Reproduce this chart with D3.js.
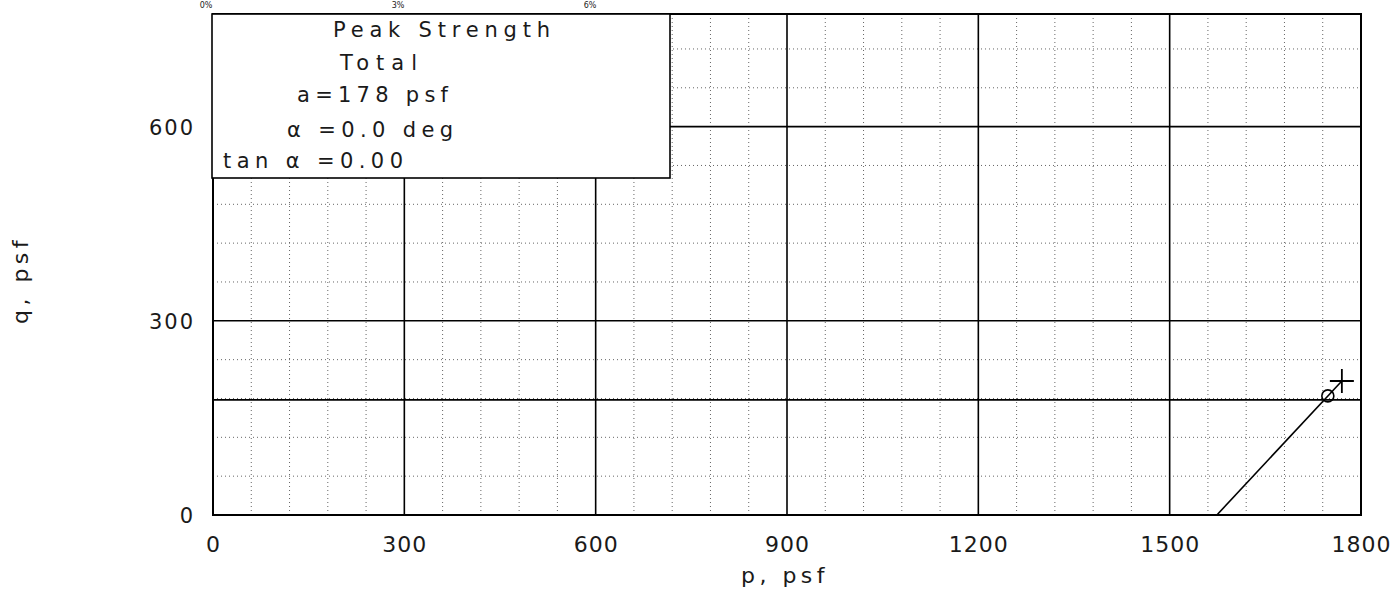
<!DOCTYPE html>
<html lang="en">

<head>
	<meta charset="utf-8">
	<title>p-q diagram</title>
	<style>
		body {
			margin: 0;
			background: #fff;
		}

		svg text {
			font-family: "DejaVu Sans", sans-serif;
			font-weight: normal;
			fill: #1a1a1a;
		}

		.minor line {
			stroke: #666;
			stroke-width: 1;
			stroke-dasharray: 1, 3;
		}

		.major line {
			stroke: #000;
			stroke-width: 1.6;
		}
	</style>
</head>

<body>
	<svg></svg>

	<script src="https://d3js.org/d3.v7.min.js"></script>
	<script>
		// stress path (total), p and q in psf
		var pathP = [1574, 1770];
		var pathQ = [0, 207];

		// peak point
		var peakP = [1748];
		var peakQ = [184];

		// failure envelope
		var envelopeA = 178;
		var envelopeTan = 0.00;

		var xTicks = [0, 300, 600, 900, 1200, 1500, 1800];
		var yTicks = [0, 300, 600];
		var topLabels = ["0%", "3%", "6%"];

		var legendLines = ["Peak Strength", "Total", "a=178 psf", "\u03b1 =0.0 deg", "tan \u03b1 =0.00"];

		(function() {

			var width = 1400,
				height = 593;

			var svg = d3.select("svg")
				.attr("width", width)
				.attr("height", height);

			var x = d3.scaleLinear().domain([0, 1800]).range([213, 1361]);
			var y = d3.scaleLinear().domain([0, 774]).range([515, 14]);

			// minor dotted grid every 60 psf
			var xMinor = d3.range(60, 1800, 60).filter(function(d) { return d % 300 !== 0; });
			var yMinor = d3.range(60, 774, 60).filter(function(d) { return d % 300 !== 0; });

			var minor = svg.append("g").attr("class", "minor");
			minor.selectAll("line.v")
				.data(xMinor)
				.enter().append("line")
				.attr("class", "v")
				.attr("x1", function(d) { return x(d); })
				.attr("x2", function(d) { return x(d); })
				.attr("y1", y(0))
				.attr("y2", y.range()[1]);
			minor.selectAll("line.h")
				.data(yMinor)
				.enter().append("line")
				.attr("class", "h")
				.attr("y1", function(d) { return y(d); })
				.attr("y2", function(d) { return y(d); })
				.attr("x1", x(0))
				.attr("x2", x(1800));

			// major solid grid
			var major = svg.append("g").attr("class", "major");
			major.selectAll("line.v")
				.data(xTicks.slice(1, -1))
				.enter().append("line")
				.attr("class", "v")
				.attr("x1", function(d) { return x(d); })
				.attr("x2", function(d) { return x(d); })
				.attr("y1", y(0))
				.attr("y2", y.range()[1]);
			major.selectAll("line.h")
				.data(yTicks.slice(1))
				.enter().append("line")
				.attr("class", "h")
				.attr("y1", function(d) { return y(d); })
				.attr("y2", function(d) { return y(d); })
				.attr("x1", x(0))
				.attr("x2", x(1800));

			// failure envelope q = a + p tan(alpha)
			svg.append("line")
				.attr("x1", x(0))
				.attr("x2", x(1800))
				.attr("y1", y(envelopeA))
				.attr("y2", y(envelopeA + 1800 * envelopeTan))
				.attr("stroke", "#000")
				.attr("stroke-width", 1.8);

			// frame
			svg.append("rect")
				.attr("x", x(0))
				.attr("y", y.range()[1])
				.attr("width", x(1800) - x(0))
				.attr("height", y(0) - y.range()[1])
				.attr("fill", "none")
				.attr("stroke", "#000")
				.attr("stroke-width", 2);

			// legend box
			var legend = svg.append("g");
			legend.append("rect")
				.attr("x", 212)
				.attr("y", 14)
				.attr("width", 458)
				.attr("height", 164)
				.attr("fill", "#fff")
				.attr("stroke", "#000")
				.attr("stroke-width", 1.6);

			var legendLayout = [
				{ x: 333, y: 37, w: 217 },
				{ x: 340, y: 70, w: 77 },
				{ x: 297, y: 102, w: 151 },
				{ x: 287, y: 137, w: 166 },
				{ x: 223, y: 168, w: 180 }
			];

			legend.selectAll("text")
				.data(legendLines)
				.enter().append("text")
				.attr("x", function(d, i) { return legendLayout[i].x; })
				.attr("y", function(d, i) { return legendLayout[i].y; })
				.attr("textLength", function(d, i) { return legendLayout[i].w; })
				.attr("lengthAdjust", "spacing")
				.style("font-size", "21px")
				.text(function(d) { return d; });

			// stress path
			var line = d3.line()
				.x(function(d) { return x(d[0]); })
				.y(function(d) { return y(d[1]); });

			svg.append("path")
				.datum(d3.zip(pathP, pathQ))
				.attr("d", line)
				.attr("fill", "none")
				.attr("stroke", "#000")
				.attr("stroke-width", 1.6);

			svg.selectAll("circle.peak")
				.data(d3.zip(peakP, peakQ))
				.enter().append("circle")
				.attr("class", "peak")
				.attr("cx", function(d) { return x(d[0]); })
				.attr("cy", function(d) { return y(d[1]); })
				.attr("r", 6)
				.attr("fill", "none")
				.attr("stroke", "#000")
				.attr("stroke-width", 1.6);

			// plus at end of path
			var endP = pathP[pathP.length - 1],
				endQ = pathQ[pathQ.length - 1];
			svg.append("path")
				.attr("d", "M-12,0H12M0,-12V12")
				.attr("transform", "translate(" + x(endP) + "," + y(endQ) + ")")
				.attr("stroke", "#000")
				.attr("stroke-width", 1.8);

			// axes
			var xAxis = svg.append("g")
				.attr("transform", "translate(0," + y(0) + ")")
				.call(d3.axisBottom(x).tickValues(xTicks).tickSize(0).tickFormat(d3.format("d")));
			xAxis.select(".domain").remove();
			xAxis.selectAll("text")
				.attr("y", 37)
				.attr("dy", 0)
				.style("font-size", "22px")
				.style("letter-spacing", "1px")
				.attr("fill", "#1a1a1a");

			var yAxis = svg.append("g")
				.attr("transform", "translate(" + x(0) + ",0)")
				.call(d3.axisLeft(y).tickValues(yTicks).tickSize(0).tickFormat(d3.format("d")));
			yAxis.select(".domain").remove();
			yAxis.selectAll("text")
				.attr("x", -18)
				.attr("dy", "0.36em")
				.style("font-size", "21px")
				.style("letter-spacing", "2px")
				.attr("fill", "#1a1a1a");

			// axis titles
			svg.append("text")
				.attr("x", 785)
				.attr("y", 583)
				.attr("text-anchor", "middle")
				.style("font-size", "22px")
				.style("letter-spacing", "4.5px")
				.text("p, psf");

			svg.append("text")
				.attr("transform", "translate(28,280) rotate(-90)")
				.attr("text-anchor", "middle")
				.style("font-size", "22px")
				.style("letter-spacing", "4.5px")
				.text("q, psf");

			// labels of the chart above, only their bottom shows at the page edge
			var topX = d3.scaleLinear().domain([0, 2]).range([206, 590]);
			svg.selectAll("text.top")
				.data(topLabels)
				.enter().append("text")
				.attr("class", "top")
				.attr("x", function(d, i) { return topX(i); })
				.attr("y", 8)
				.attr("text-anchor", "middle")
				.style("font-size", "8px")
				.text(function(d) { return d; });

		})();
	</script>
</body>

</html>
